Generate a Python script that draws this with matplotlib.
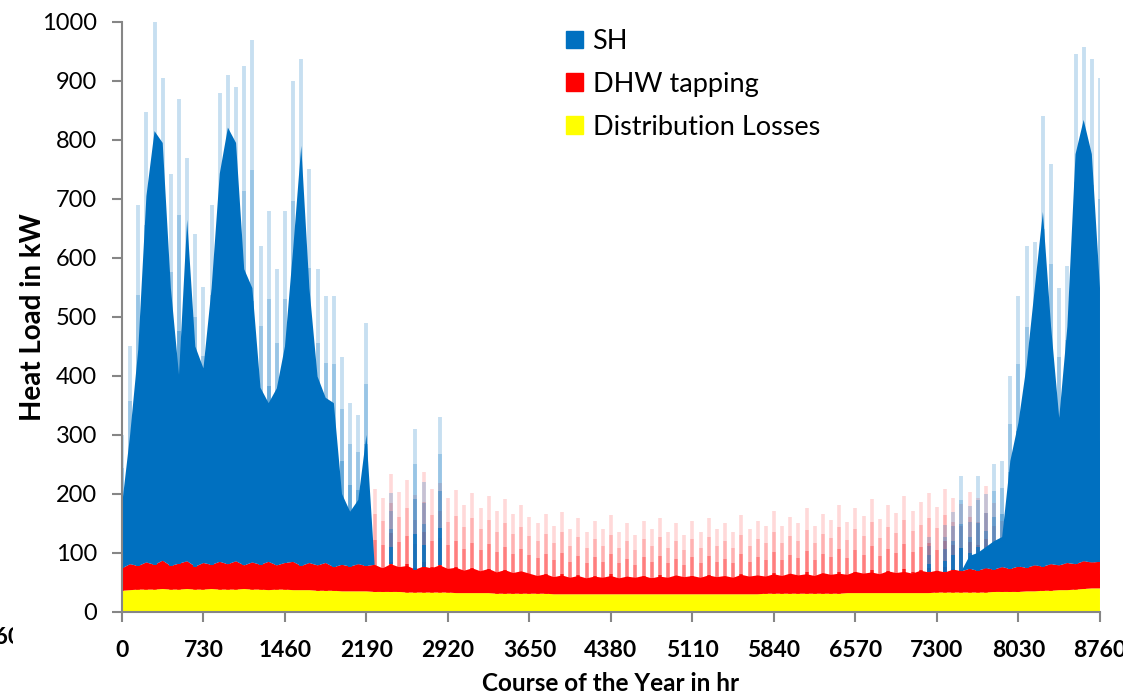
import matplotlib
matplotlib.use("Agg")
import matplotlib.pyplot as plt
from matplotlib.patches import Patch
from matplotlib.transforms import Bbox
import numpy as np

plt.rcParams['font.family'] = ['Lato', 'DejaVu Sans']

# Hour of the year for each sample (every 73 h)
hours = list(range(0, 8761, 73))

# Distribution losses in kW
losses = [36, 37, 38, 38, 38, 39, 38, 38, 39, 38,
          38, 39, 38, 38, 38, 39, 38, 38, 37, 38,
          38, 37, 37, 37, 36, 36, 36, 35, 35, 35,
          35, 34, 34, 34, 34, 33, 33, 33, 33, 33,
          33, 32, 32, 32, 32, 32, 31, 31, 31, 31,
          31, 31, 31, 30, 30, 30, 30, 30, 30, 30,
          30, 30, 30, 30, 30, 30, 30, 30, 30, 30,
          30, 30, 30, 30, 30, 30, 30, 30, 30, 31,
          31, 31, 31, 31, 31, 31, 31, 31, 31, 32,
          32, 32, 32, 32, 32, 32, 32, 32, 32, 32,
          33, 33, 33, 33, 33, 33, 33, 34, 34, 34,
          34, 35, 35, 36, 36, 37, 37, 38, 39, 40,
          40]

# DHW tapping, typical level in kW
dhw = [38, 44, 40, 46, 42, 48, 40, 44, 47, 39,
       45, 41, 47, 43, 48, 40, 46, 42, 48, 41,
       45, 48, 41, 46, 43, 47, 40, 45, 42, 46,
       43, 46, 40, 47, 42, 45, 39, 44, 41, 46,
       40, 43, 38, 42, 37, 41, 36, 40, 35, 38,
       34, 30, 33, 29, 32, 28, 31, 27, 30, 28,
       31, 27, 30, 28, 31, 27, 30, 28, 32, 29,
       31, 28, 32, 29, 31, 28, 33, 30, 32, 29,
       33, 30, 34, 31, 33, 30, 35, 32, 34, 31,
       36, 33, 35, 32, 37, 34, 36, 33, 38, 35,
       37, 34, 39, 36, 40, 37, 41, 38, 42, 39,
       43, 40, 44, 41, 45, 42, 46, 43, 47, 44,
       45]

# DHW tapping peaks in kW
dhw_peak = [65, 80, 70, 85, 75, 90, 70, 80, 88, 72,
            84, 74, 90, 78, 86, 72, 88, 76, 92, 74,
            85, 90, 76, 88, 80, 92, 78, 95, 110, 130,
            150, 175, 160, 200, 170, 190, 165, 205, 175, 185,
            160, 175, 150, 170, 145, 165, 140, 160, 135, 150,
            130, 120, 135, 115, 140, 110, 130, 105, 125, 110,
            135, 105, 120, 100, 125, 110, 130, 105, 120, 100,
            125, 105, 130, 110, 120, 105, 135, 110, 125, 115,
            140, 115, 130, 120, 145, 115, 135, 125, 150, 120,
            145, 130, 160, 125, 150, 135, 165, 140, 155, 170,
            145, 175, 160, 150, 170, 160, 180, 150, 120, 110,
            100, 95, 90, 100, 95, 105, 100, 110, 100, 105,
            95]

# Space heating, typical level in kW
sh = [106, 219, 367, 621, 735, 708, 471, 320, 579, 373,
      330, 469, 658, 740, 709, 502, 465, 300, 269, 300,
      367, 529, 712, 466, 320, 280, 278, 120, 93, 109,
      222, 0, 0, 0, 0, 0, 0, 0, 0, 0,
      0, 0, 0, 0, 0, 0, 0, 0, 0, 0,
      0, 0, 0, 0, 0, 0, 0, 0, 0, 0,
      0, 0, 0, 0, 0, 0, 0, 0, 0, 0,
      0, 0, 0, 0, 0, 0, 0, 0, 0, 0,
      0, 0, 0, 0, 0, 0, 0, 0, 0, 0,
      0, 0, 0, 0, 0, 0, 0, 0, 0, 0,
      0, 0, 0, 0, 22, 30, 36, 48, 51, 183,
      244, 343, 470, 601, 403, 250, 401, 695, 748, 692,
      464]

# Space heating peaks in kW
sh_peak = [226, 369, 612, 763, 920, 818, 665, 788, 684, 563,
           467, 610, 795, 829, 804, 846, 886, 540, 595, 502,
           597, 815, 860, 667, 502, 452, 459, 352, 277, 253,
           412, 0, 0, 120, 0, 0, 238, 143, 0, 251,
           0, 0, 0, 0, 0, 0, 0, 0, 0, 0,
           0, 0, 0, 0, 0, 0, 0, 0, 0, 0,
           0, 0, 0, 0, 0, 0, 0, 0, 0, 0,
           0, 0, 0, 0, 0, 0, 0, 0, 0, 0,
           0, 0, 0, 0, 0, 0, 0, 0, 0, 0,
           0, 0, 0, 0, 0, 0, 0, 0, 0, 60,
           0, 80, 98, 161, 107, 160, 126, 178, 180, 327,
           458, 545, 548, 763, 679, 470, 504, 864, 872, 854,
           820]

series_labels = ["SH", "DHW tapping", "Distribution Losses"]
x_ticks = list(range(0, 8761, 730))
y_ticks = list(range(0, 1001, 100))

c_sh = "#0070C0"
c_dhw = "#FF0000"
c_loss = "#FFFF00"


def faded_spikes(ax, x, lo, hi, color, lw, alphas, z):
    # draw each spike in a few pieces, lighter towards the tip
    n = len(alphas)
    for k, a in enumerate(alphas):
        y0 = lo + (hi - lo) * k / n
        y1 = lo + (hi - lo) * (k + 1) / n
        ax.vlines(x, y0, y1, colors=color, linewidth=lw, alpha=a, zorder=z)


fig = plt.figure(figsize=(11.23, 6.96), dpi=100)
ax = fig.add_axes([0.1086, 0.1207, 0.8709, 0.8477])

h = np.array(hours)
L = np.array(losses)
D = np.array(dhw)
S = np.array(sh)
base = L + D

# stacked hourly load: losses, DHW, space heating
ax.stackplot(h, L, D, S, colors=[c_loss, c_dhw, c_sh], linewidth=0, zorder=3)

# tapping peaks above the losses
faded_spikes(ax, h, L, L + np.array(dhw_peak), c_dhw, 2.6,
             [0.9, 0.5, 0.3, 0.15], 2)

# heating peaks above losses + DHW
shp = np.array(sh_peak)
mp = shp > 0
faded_spikes(ax, h[mp], base[mp], (base + shp)[mp], c_sh, 2.8,
             [0.9, 0.6, 0.4, 0.22], 4)

ax.set_xlim(0, 8760)
ax.set_ylim(0, 1000)
ax.set_xticks(x_ticks)
ax.set_yticks(y_ticks)

for s in ["top", "right"]:
    ax.spines[s].set_visible(False)
for s in ["left", "bottom"]:
    ax.spines[s].set_color("#868686")
    ax.spines[s].set_linewidth(1.5)
    ax.spines[s].set_zorder(5)

ax.tick_params(axis="both", direction="out", length=7, width=1.5, color="#868686")
ax.tick_params(axis="y", labelsize=17, pad=11)
ax.tick_params(axis="x", labelsize=16.5, pad=13)
for lbl in ax.get_xticklabels():
    lbl.set_fontweight("bold")

ax.set_ylabel("Heat Load in kW", fontsize=20, fontweight="bold")
ax.yaxis.set_label_coords(-0.078, 0.5)
ax.set_xlabel("Course of the Year in hr", fontsize=17.5, fontweight="bold")
ax.xaxis.set_label_coords(0.5, -0.102)

handles = [Patch(color=c_sh), Patch(color=c_dhw), Patch(color=c_loss)]
ax.legend(handles, series_labels, loc="upper left",
          bbox_to_anchor=(566 / 1123, 1 - 29 / 696), bbox_transform=fig.transFigure,
          frameon=False, fontsize=19.5, handlelength=0.63, handleheight=0.63,
          handletextpad=0.35, labelspacing=0.66, borderpad=0, borderaxespad=0)

# leftover tick label cut off at the left margin
stray = fig.text(21 / 1123, 1 - 638 / 696, "8760", ha="right", va="center",
                 fontsize=16.5, fontweight="bold")
stray.set_clip_box(Bbox.from_extents(0, 0, 13, 696))

fig.savefig("out.png", dpi=100)
